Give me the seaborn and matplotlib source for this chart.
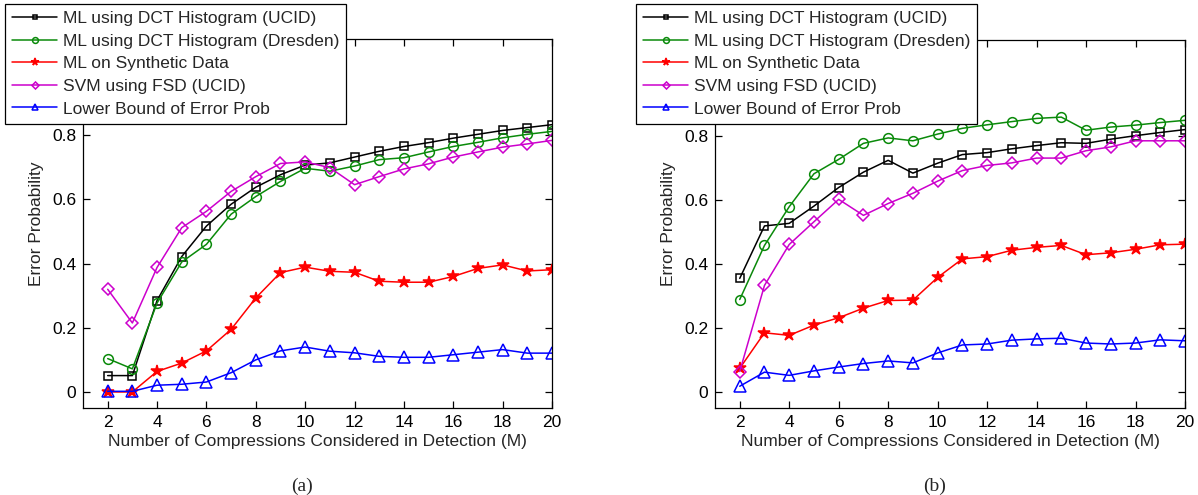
import matplotlib
matplotlib.use("Agg")
import matplotlib.pyplot as plt
import seaborn as sns
import numpy as np

# Number of compressions considered in detection
M = list(range(2, 21))

labels = [
    "ML using DCT Histogram (UCID)",
    "ML using DCT Histogram (Dresden)",
    "ML on Synthetic Data",
    "SVM using FSD (UCID)",
    "Lower Bound of Error Prob",
]

# Panel (a)
a_ucid = [0.051, 0.051, 0.285, 0.422, 0.517, 0.585, 0.638, 0.677, 0.707, 0.714,
          0.732, 0.750, 0.765, 0.777, 0.791, 0.803, 0.815, 0.824, 0.833]
a_dresden = [0.104, 0.072, 0.277, 0.405, 0.460, 0.554, 0.609, 0.656, 0.697, 0.688,
             0.704, 0.724, 0.730, 0.748, 0.765, 0.778, 0.792, 0.803, 0.812]
a_synth = [0.000, 0.000, 0.064, 0.090, 0.128, 0.195, 0.293, 0.372, 0.389, 0.376,
           0.373, 0.345, 0.342, 0.342, 0.360, 0.385, 0.396, 0.377, 0.381]
a_svm = [0.320, 0.215, 0.388, 0.512, 0.563, 0.625, 0.671, 0.712, 0.717, 0.699,
         0.646, 0.671, 0.695, 0.711, 0.732, 0.748, 0.763, 0.773, 0.784]
a_bound = [0.002, 0.002, 0.021, 0.024, 0.031, 0.060, 0.100, 0.128, 0.140, 0.127,
           0.122, 0.111, 0.108, 0.108, 0.116, 0.124, 0.132, 0.121, 0.121]

# Panel (b)
b_ucid = [0.355, 0.519, 0.527, 0.581, 0.639, 0.687, 0.724, 0.684, 0.715, 0.742,
          0.748, 0.760, 0.770, 0.779, 0.777, 0.790, 0.801, 0.811, 0.820]
b_dresden = [0.289, 0.458, 0.579, 0.682, 0.727, 0.777, 0.794, 0.785, 0.806, 0.824,
             0.835, 0.845, 0.855, 0.859, 0.818, 0.828, 0.834, 0.842, 0.849]
b_synth = [0.074, 0.185, 0.177, 0.209, 0.232, 0.262, 0.286, 0.287, 0.358, 0.416,
           0.423, 0.443, 0.452, 0.458, 0.429, 0.435, 0.446, 0.460, 0.462]
b_svm = [0.064, 0.333, 0.461, 0.532, 0.602, 0.552, 0.589, 0.621, 0.659, 0.692,
         0.708, 0.716, 0.731, 0.731, 0.754, 0.766, 0.785, 0.785, 0.785]
b_bound = [0.018, 0.062, 0.052, 0.066, 0.078, 0.089, 0.097, 0.091, 0.122, 0.147,
           0.150, 0.162, 0.166, 0.168, 0.153, 0.150, 0.153, 0.163, 0.160]

x_ticks = list(range(2, 21, 2))
y_ticks = [0, 0.2, 0.4, 0.6, 0.8]
y_ticklabels = ["0", "0.2", "0.4", "0.6", "0.8"]

colors = ["#000000", "#0a8a0a", "#ff0000", "#cc00cc", "#0000ff"]
markers = ["s", "o", "*", "D", "^"]
msizes = [6, 7, 9, 6, 8]
filled = [False, False, True, False, False]

sns.set_style("ticks")
plt.rcParams["font.family"] = ["Liberation Sans", "DejaVu Sans"]
plt.rcParams["axes.linewidth"] = 0.9

fig = plt.figure(figsize=(11.98, 4.95), dpi=100)
W, H = 1198.0, 495.0
ax1 = fig.add_axes([83 / W, 1 - 408 / H, (552 - 83) / W, (408 - 39) / H])
ax2 = fig.add_axes([715 / W, 1 - 408 / H, (1185 - 715) / W, (408 - 40) / H])


def draw_panel(ax, series, legend_x):
    for vals, lab, c, m, ms, f in zip(series, labels, colors, markers, msizes, filled):
        sns.lineplot(x=M, y=vals, ax=ax, color=c, marker=m, markersize=ms,
                     markerfacecolor=c if f else "none", markeredgecolor=c,
                     markeredgewidth=1.1, linewidth=1.1, label=lab)
    ax.set_xlim(1, 20)
    ax.set_ylim(-0.05, 1.1)
    ax.set_xticks(x_ticks)
    ax.set_yticks(y_ticks)
    ax.set_yticklabels(y_ticklabels)
    ax.tick_params(direction="in", top=True, right=True, length=5, width=0.9,
                   labelsize=12.5, colors="black", pad=5)
    for s in ax.spines.values():
        s.set_visible(True)
        s.set_color("black")
    ax.set_xlabel("Number of Compressions Considered in Detection (M)", fontsize=12.5, labelpad=3)
    ax.set_ylabel("Error Probability", fontsize=12.5, labelpad=6)
    leg = ax.legend(loc="upper left", bbox_to_anchor=(legend_x / W, 1 - 4 / H),
                    bbox_transform=fig.transFigure, borderaxespad=0, fancybox=False,
                    edgecolor="black", framealpha=1, fontsize=12.5, handlelength=2.6,
                    labelspacing=0.43, handletextpad=0.35, borderpad=0.4, markerscale=0.6)
    leg.get_frame().set_linewidth(0.9)


draw_panel(ax1, [a_ucid, a_dresden, a_synth, a_svm, a_bound], 5)
draw_panel(ax2, [b_ucid, b_dresden, b_synth, b_svm, b_bound], 636)

fig.text(302 / W, 1 - 486 / H, "(a)", ha="center", va="center",
         family=["Liberation Serif", "DejaVu Serif"], fontsize=14)
fig.text(935 / W, 1 - 486 / H, "(b)", ha="center", va="center",
         family=["Liberation Serif", "DejaVu Serif"], fontsize=14)

fig.savefig("out.png", dpi=100)
